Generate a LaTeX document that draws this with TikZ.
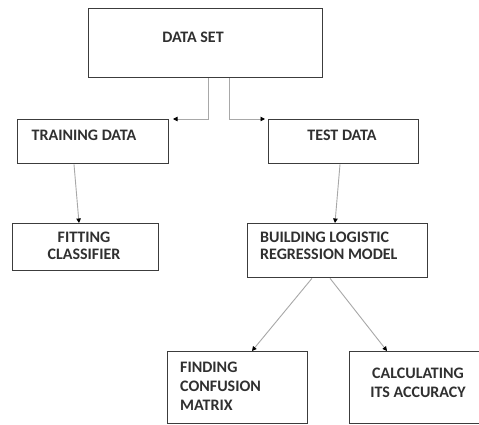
\documentclass[tikz,border=0pt]{standalone}
\usepackage{fontspec}
\setmainfont{Carlito}
\usetikzlibrary{arrows.meta}
\definecolor{boxline}{HTML}{3C3C3C}
\definecolor{connline}{HTML}{A8A8A8}
\definecolor{txt}{HTML}{303030}
\tikzset{
  box/.style={draw=boxline, line width=1.3pt, anchor=north west, inner sep=0pt, fill=white},
  lbl/.style={text=txt, font=\bfseries\fontsize{16}{17}\selectfont, inner sep=0pt},
  conn/.style={draw=connline, line width=0.9pt, -{Triangle[length=4.5pt,width=4.5pt,color=black]}}
}
\begin{document}
\begin{tikzpicture}[x=1pt,y=-1pt]
\clip (0,0) rectangle (479,425);
\fill[white] (0,0) rectangle (479,425);
% boxes
\node[box, minimum width=234pt, minimum height=69pt] (ds) at (88,8) {};
\node[box, minimum width=151pt, minimum height=44pt] (train) at (17,119) {};
\node[box, minimum width=150pt, minimum height=44pt] (test) at (268,119) {};
\node[box, minimum width=146pt, minimum height=47pt] (fit) at (12,223) {};
\node[box, minimum width=180pt, minimum height=54pt] (build) at (247,223) {};
\node[box, minimum width=140pt, minimum height=72pt] (find) at (167,351) {};
\node[box, minimum width=145pt, minimum height=72pt] (calc) at (349,351) {};
% texts
\node[lbl] (tds) at (193,37) {DATA SET};
\node[lbl] (ttrain) at (84,135) {TRAINING DATA};
\node[lbl] (ttest) at (342,135) {TEST DATA};
\node[lbl, align=center] (tfit) at (84,245.5) {FITTING\\CLASSIFIER};
\node[lbl, align=left, anchor=west] (tbuild) at (260,245.5) {BUILDING LOGISTIC\\REGRESSION MODEL};
\node[lbl, align=left, anchor=west, font=\bfseries\fontsize{16}{19}\selectfont] (tfind) at (180,386) {FINDING\\CONFUSION\\MATRIX};
\node[lbl, align=center, font=\bfseries\fontsize{16}{19}\selectfont] (tcalc) at (418,382.5) {CALCULATING\\ITS ACCURACY};
% connectors
\coordinate (a1) at (173,119);
\coordinate (a2) at (265,119);
\draw[conn] (ds.south -| 208,0) |- (a1);
\draw[conn] (ds.south -| 229,0) |- (a2);
\draw[conn] (train.south -| 74,0) -- (fit.north -| 79,0);
\draw[conn] (test.south -| 340,0) -- (build.north -| 335,0);
\draw[conn] (build.south -| 312,0) -- (find.north -| 252,0);
\draw[conn] (build.south -| 330,0) -- (calc.north -| 387,0);
\end{tikzpicture}
\end{document}
